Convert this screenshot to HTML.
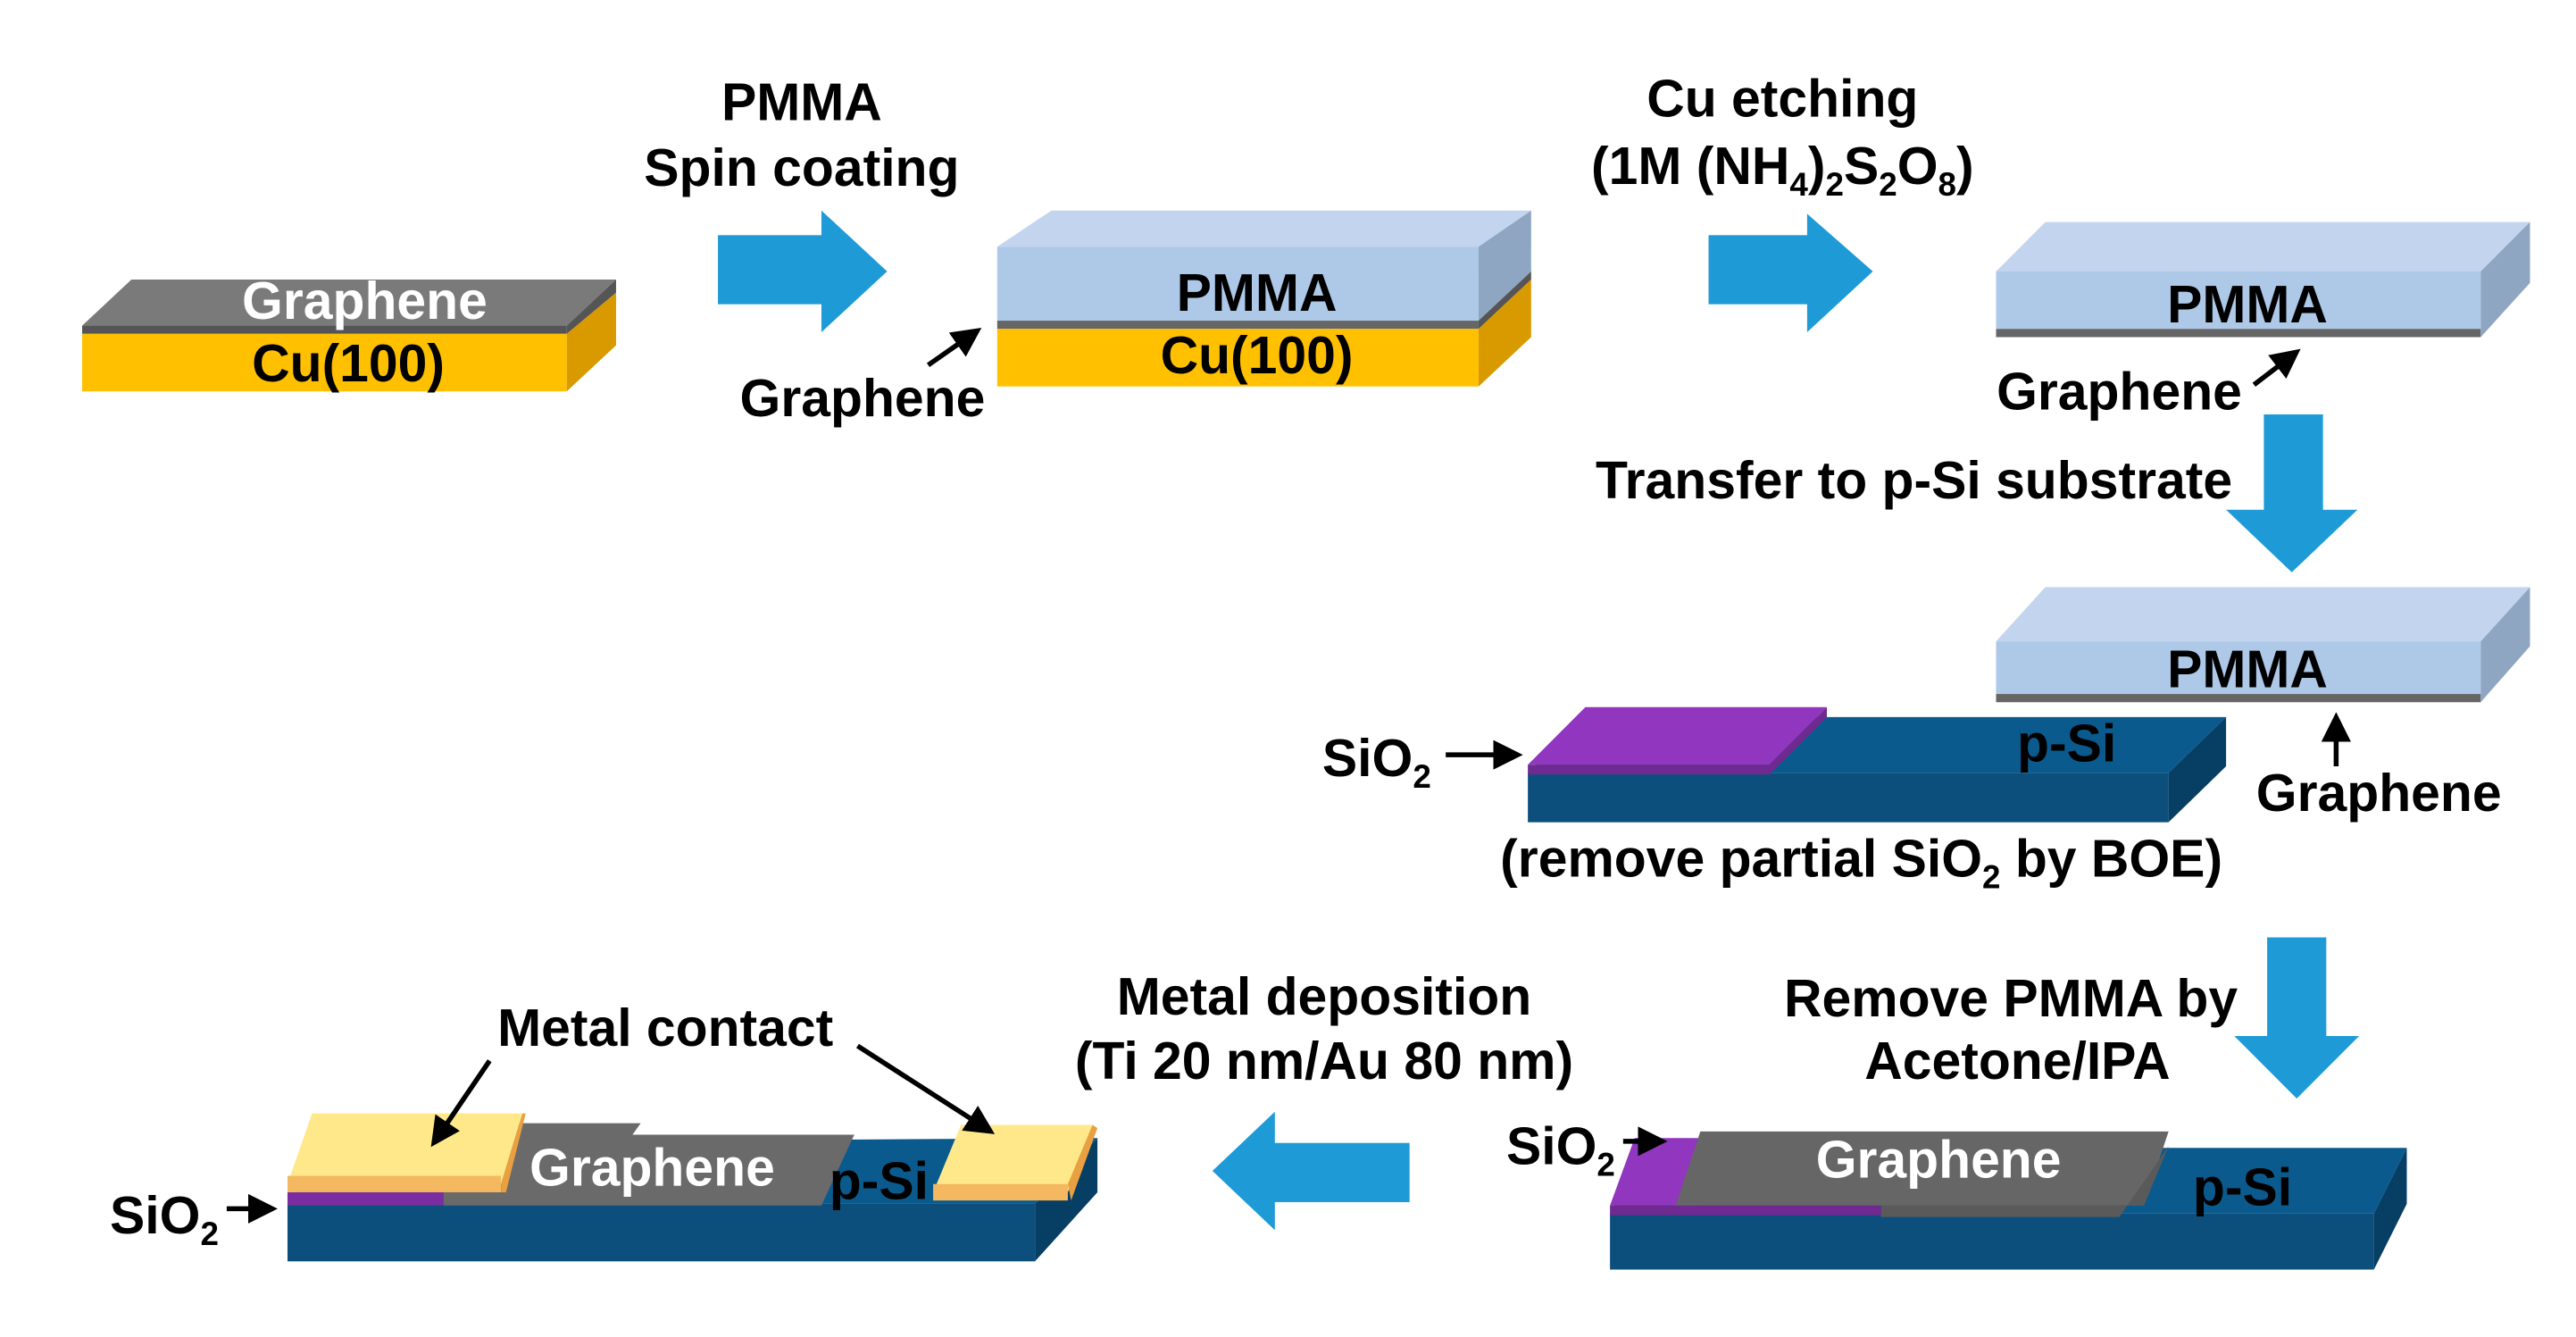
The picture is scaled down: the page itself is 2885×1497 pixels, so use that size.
<!DOCTYPE html>
<html><head><meta charset="utf-8"><style>
html,body{margin:0;padding:0;background:#fff;}
svg{display:block;}
text{font-family:"Liberation Sans",Arial,sans-serif;font-weight:bold;text-anchor:middle;}
</style></head><body>
<svg width="2885" height="1497" viewBox="0 0 1568 813" preserveAspectRatio="none" xmlns="http://www.w3.org/2000/svg">
<defs>
<marker id="ah" markerWidth="6" markerHeight="6" refX="5" refY="3" orient="auto" markerUnits="strokeWidth"><path d="M0,0 L6,3 L0,6 z" fill="#000"/></marker>
</defs>
<rect width="1568" height="813" fill="#fff"/>
<g font-size="32">
<!-- Block 1 -->
<polygon points="50,198 80,170 375,170 345,198" fill="#7a7a7a"/>
<rect x="50" y="198" width="295" height="5" fill="#555"/>
<rect x="50" y="203" width="295" height="35" fill="#FFC000"/>
<polygon points="345,198 375,170 375,178 345,203" fill="#555"/>
<polygon points="345,203 375,178 375,210 345,238" fill="#D99A00"/>
<text x="222" y="194" fill="#fff">Graphene</text>
<text x="212" y="232" fill="#000">Cu(100)</text>

<!-- Arrow 1 -->
<rect x="437" y="143" width="64" height="42" fill="#1E9BD7"/>
<polygon points="500,128 540,165 500,202" fill="#1E9BD7"/>
<text x="488" y="73">PMMA</text>
<text x="488" y="113">Spin coating</text>

<!-- Block 2 -->
<polygon points="607,150 640,128 932,128 900,150" fill="#C3D5EE"/>
<rect x="607" y="150" width="293" height="45" fill="#AEC8E8"/>
<rect x="607" y="195" width="293" height="5" fill="#666"/>
<rect x="607" y="200" width="293" height="35" fill="#FFC000"/>
<polygon points="900,150 932,128 932,165 900,195" fill="#8FA6C2"/>
<polygon points="900,195 932,165 932,170 900,200" fill="#555"/>
<polygon points="900,200 932,170 932,205 900,235" fill="#D99A00"/>
<text x="765" y="189">PMMA</text>
<text x="765" y="227">Cu(100)</text>
<text x="525" y="253">Graphene</text>
<line x1="565" y1="222" x2="595" y2="201" stroke="#000" stroke-width="3" marker-end="url(#ah)"/>

<!-- Arrow 2 -->
<rect x="1040" y="143" width="62" height="42" fill="#1E9BD7"/>
<polygon points="1100,130 1140,165 1100,202" fill="#1E9BD7"/>
<text x="1085" y="71">Cu etching</text>
<text x="1085" y="112">(1M (NH<tspan font-size="20" dy="7">4</tspan><tspan dy="-7">)</tspan><tspan font-size="20" dy="7">2</tspan><tspan dy="-7">S</tspan><tspan font-size="20" dy="7">2</tspan><tspan dy="-7">O</tspan><tspan font-size="20" dy="7">8</tspan><tspan dy="-7">)</tspan></text>

<!-- Block 3 -->
<polygon points="1215,165 1245,135 1540,135 1510,165" fill="#C3D5EE"/>
<rect x="1215" y="165" width="295" height="35" fill="#AEC8E8"/>
<rect x="1215" y="200" width="295" height="5" fill="#666"/>
<polygon points="1510,165 1540,135 1540,172 1510,205" fill="#8FA6C2"/>
<text x="1368" y="196">PMMA</text>
<text x="1290" y="249">Graphene</text>
<line x1="1372" y1="234" x2="1398" y2="214" stroke="#000" stroke-width="3" marker-end="url(#ah)"/>

<!-- Down arrow 1 -->
<rect x="1378" y="252" width="36" height="60" fill="#1E9BD7"/>
<polygon points="1355,310 1435,310 1395,348" fill="#1E9BD7"/>
<text x="1165" y="303">Transfer to p-Si substrate</text>

<!-- Block 4 PMMA -->
<polygon points="1215,390 1245,357 1540,357 1510,390" fill="#C3D5EE"/>
<rect x="1215" y="390" width="295" height="32" fill="#AEC8E8"/>
<rect x="1215" y="422" width="295" height="5" fill="#666"/>
<polygon points="1510,390 1540,357 1540,393 1510,427" fill="#8FA6C2"/>
<text x="1368" y="418">PMMA</text>
<text x="1448" y="493">Graphene</text>
<line x1="1422" y1="466" x2="1422" y2="436" stroke="#000" stroke-width="3" marker-end="url(#ah)"/>

<!-- p-Si substrate -->
<polygon points="930,470 965,436 1355,436 1320,470" fill="#0B5A8E"/>
<rect x="930" y="470" width="390" height="30" fill="#0D4F7C"/>
<polygon points="1320,470 1355,436 1355,466 1320,500" fill="#073E63"/>
<polygon points="930,465 965,430 1112,430 1077,465" fill="#9136BE"/>
<polygon points="930,465 1077,465 1077,471 930,471" fill="#6E2A90"/>
<polygon points="1077,465 1112,430 1112,436 1077,471" fill="#6E2A90"/>
<text x="1258" y="463">p-Si</text>
<text x="838" y="472">SiO<tspan font-size="20" dy="7">2</tspan></text>
<line x1="880" y1="459" x2="924" y2="459" stroke="#000" stroke-width="3" marker-end="url(#ah)"/>
<text x="1133" y="533">(remove partial SiO<tspan font-size="20" dy="7">2</tspan><tspan dy="-7"> by BOE)</tspan></text>

<!-- Down arrow 2 -->
<rect x="1380" y="570" width="36" height="62" fill="#1E9BD7"/>
<polygon points="1360,630 1436,630 1398,668" fill="#1E9BD7"/>
<text x="1224" y="618">Remove PMMA by</text>
<text x="1228" y="656">Acetone/IPA</text>

<!-- Bottom right block -->
<polygon points="980,738 1000,698 1465,698 1445,738" fill="#0B5A8E"/>
<rect x="980" y="738" width="465" height="34" fill="#0D4F7C"/>
<polygon points="1445,738 1465,698 1465,732 1445,772" fill="#073E63"/>
<polygon points="980,733 995,692 1050,692 1035,733" fill="#9136BE"/>
<rect x="980" y="733" width="165" height="6" fill="#6E2A90"/>
<polygon points="1020,733 1035,688 1320,688 1305,733" fill="#666"/>
<polygon points="1145,733 1305,733 1320,697 1290,740 1145,740" fill="#5a5a5a"/>
<text x="1180" y="716" fill="#fff">Graphene</text>
<text x="1365" y="733">p-Si</text>
<text x="950" y="708">SiO<tspan font-size="20" dy="7">2</tspan></text>
<line x1="988" y1="694" x2="1012" y2="694" stroke="#000" stroke-width="3" marker-end="url(#ah)"/>

<!-- Left arrow -->
<rect x="773" y="695" width="85" height="36" fill="#1E9BD7"/>
<polygon points="776,676 738,712 776,748" fill="#1E9BD7"/>
<text x="806" y="617">Metal deposition</text>
<text x="806" y="656">(Ti 20 nm/Au 80 nm)</text>

<!-- Bottom left block -->
<polygon points="175,732 190,695 668,692 630,732" fill="#0B5A8E"/>
<rect x="175" y="732" width="455" height="35" fill="#0D4F7C"/>
<polygon points="630,732 668,692 668,725 630,767" fill="#073E63"/>
<rect x="175" y="725" width="165" height="8" fill="#7A2DA0"/>
<polygon points="270,725 292,683 390,683 385,690 520,690 500,733 270,733" fill="#6a6a6a"/>
<polygon points="175,720 190,677 318,677 305,720" fill="#FFE88A"/>
<rect x="175" y="715" width="130" height="10" fill="#F4B860"/>
<polygon points="305,720 318,677 320,677 308,725 305,725" fill="#E8A040"/>
<polygon points="568,725 585,684 665,684 650,725" fill="#FFE88A"/>
<rect x="568" y="720" width="82" height="10" fill="#F4B860"/>
<polygon points="650,720 665,684 668,686 652,730" fill="#E8A040"/>
<text x="397" y="721" fill="#fff">Graphene</text>
<text x="535" y="729">p-Si</text>
<text x="405" y="636">Metal contact</text>
<line x1="298" y1="645" x2="264" y2="695" stroke="#000" stroke-width="3" marker-end="url(#ah)"/>
<line x1="522" y1="636" x2="603" y2="688" stroke="#000" stroke-width="3" marker-end="url(#ah)"/>
<text x="100" y="750">SiO<tspan font-size="20" dy="7">2</tspan></text>
<line x1="138" y1="735" x2="166" y2="735" stroke="#000" stroke-width="3" marker-end="url(#ah)"/>
</g>
</svg>
</body></html>
